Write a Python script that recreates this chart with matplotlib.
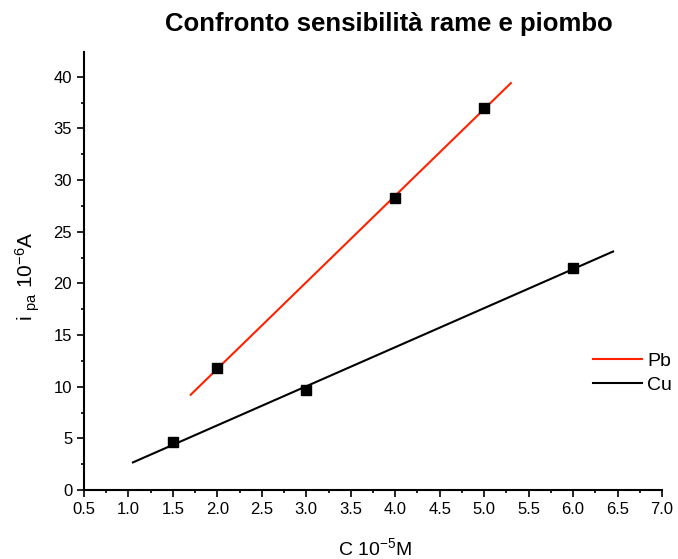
import numpy as np
import matplotlib
matplotlib.use('Agg')
import matplotlib.pyplot as plt
from matplotlib.ticker import MultipleLocator, FormatStrFormatter
from matplotlib.lines import Line2D

plt.rcParams['font.family'] = ['Liberation Sans', 'DejaVu Sans']
plt.rcParams['mathtext.fontset'] = 'custom'
plt.rcParams['mathtext.rm'] = 'Liberation Sans'
plt.rcParams['mathtext.it'] = 'Liberation Sans'

# measured points (concentration 10^-5 M, peak current 10^-6 A)
pb_conc = [2.0, 4.0, 5.0]
pb_curr = [11.8, 28.3, 37.0]
cu_conc = [1.5, 3.0, 6.0]
cu_curr = [4.6, 9.7, 21.5]

# x span of the linear fits
pb_fit_range = [1.7, 5.3]
cu_fit_range = [1.05, 6.45]

fig = plt.figure(figsize=(6.78, 5.59), dpi=100)
ax = fig.add_axes([84/678, 1 - 490/559, (662 - 84)/678, (490 - 52)/559])

# linear regression lines
pb_fit = np.polyfit(pb_conc, pb_curr, 1)
cu_fit = np.polyfit(cu_conc, cu_curr, 1)
xs_pb = np.linspace(pb_fit_range[0], pb_fit_range[1], 50)
xs_cu = np.linspace(cu_fit_range[0], cu_fit_range[1], 50)
ax.plot(xs_pb, np.polyval(pb_fit, xs_pb), color='#ff2200', lw=1.5, zorder=2)
ax.plot(xs_cu, np.polyval(cu_fit, xs_cu), color='black', lw=1.5, zorder=2)

ax.plot(pb_conc, pb_curr, 's', color='black', ms=7.5, zorder=3)
ax.plot(cu_conc, cu_curr, 's', color='black', ms=7.5, zorder=3)

ax.set_xlim(0.5, 7.0)
ax.set_ylim(0, 42.4)
ax.spines['top'].set_visible(False)
ax.spines['right'].set_visible(False)
for s in ['left', 'bottom']:
    ax.spines[s].set_linewidth(1.5)

ax.xaxis.set_major_locator(MultipleLocator(0.5))
ax.xaxis.set_minor_locator(MultipleLocator(0.25))
ax.xaxis.set_major_formatter(FormatStrFormatter('%.1f'))
ax.yaxis.set_major_locator(MultipleLocator(5))
ax.yaxis.set_minor_locator(MultipleLocator(2.5))
ax.tick_params(which='major', direction='out', length=5, width=1.2, labelsize=12)
ax.tick_params(which='minor', direction='out', length=2.5, width=1.2)

fig.text(389/678, 1 - 24/559, 'Confronto sensibilità rame e piombo',
         ha='center', va='center', fontsize=18.5, fontweight='bold')
fig.text(375/678, 1 - 548/559, r'C 10$^{-5}$M', ha='center', va='center', fontsize=14)
fig.text(28/678, 1 - 276/559, r'i $_{\rm pa}$ 10$^{-6}$A', ha='center', va='center',
         rotation=90, fontsize=15)

handles = [Line2D([], [], color='#ff2200', lw=1.5), Line2D([], [], color='black', lw=1.5)]
fig.legend(handles, ['Pb', 'Cu'], loc='center left', bbox_to_anchor=(593/678, 1 - 373/559),
           frameon=False, fontsize=14, handlelength=2.5, labelspacing=0.35,
           handletextpad=0.3, borderpad=0, borderaxespad=0)

fig.savefig('out.png', dpi=100)
